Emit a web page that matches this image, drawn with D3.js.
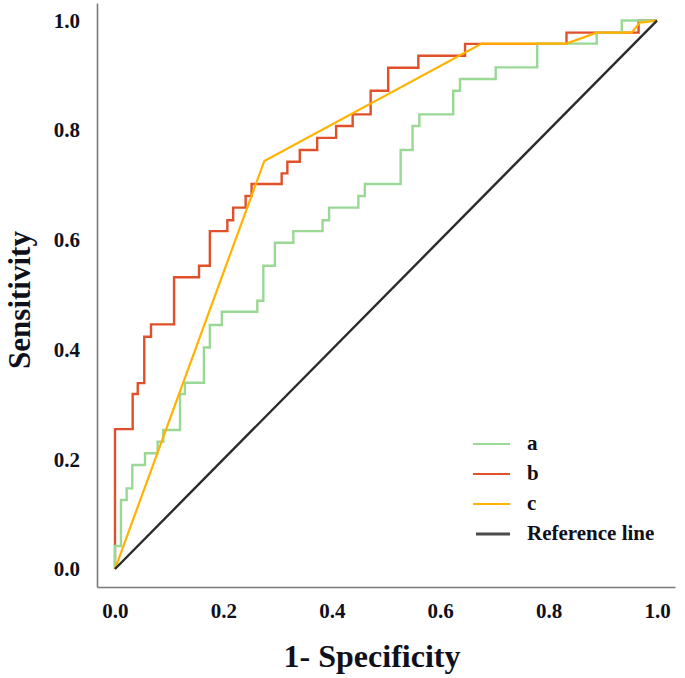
<!DOCTYPE html>
<html><head><meta charset="utf-8">
<script src="https://cdn.jsdelivr.net/npm/d3@7"></script>
<style>body{margin:0;background:#fff}</style>
</head><body>
<svg id="chart" width="685" height="678"></svg>
<script>
const seriesNames = ["a", "b", "c", "Reference line"];
const seriesColors = ["#9ad896", "#e0512b", "#ffb300", "#2b2b2b"];
const tickValues = [0, 0.2, 0.4, 0.6, 0.8, 1.0];
const tickLabels = ["0.0", "0.2", "0.4", "0.6", "0.8", "1.0"];

const rocA = [[0,0],[0,0.042],[0.011,0.042],[0.011,0.1258],[0.0215,0.1258],[0.0215,0.147],[0.032,0.147],[0.032,0.1896],[0.0554,0.1896],[0.0554,0.211],[0.0787,0.211],[0.0787,0.232],[0.089,0.232],[0.089,0.2534],[0.12,0.2534],[0.12,0.319],[0.129,0.319],[0.129,0.3397],[0.164,0.3397],[0.164,0.404],[0.175,0.404],[0.175,0.445],[0.197,0.445],[0.197,0.469],[0.2626,0.469],[0.2626,0.489],[0.2737,0.489],[0.2737,0.553],[0.295,0.553],[0.295,0.595],[0.329,0.595],[0.329,0.616],[0.383,0.616],[0.383,0.636],[0.395,0.636],[0.395,0.659],[0.449,0.659],[0.449,0.68],[0.461,0.68],[0.461,0.702],[0.527,0.702],[0.527,0.764],[0.549,0.764],[0.549,0.8077],[0.5615,0.8077],[0.5615,0.829],[0.624,0.829],[0.624,0.872],[0.6365,0.872],[0.6365,0.8934],[0.7024,0.8934],[0.7024,0.9146],[0.779,0.9146],[0.779,0.958],[0.8887,0.958],[0.8887,0.978],[0.935,0.978],[0.935,1],[1,1]];
const rocB = [[0,0],[0,0.255],[0.0326,0.255],[0.0326,0.319],[0.042,0.319],[0.042,0.339],[0.054,0.339],[0.054,0.4235],[0.0664,0.4235],[0.0664,0.446],[0.109,0.446],[0.109,0.532],[0.155,0.532],[0.155,0.553],[0.175,0.553],[0.175,0.616],[0.2073,0.616],[0.2073,0.636],[0.218,0.636],[0.218,0.659],[0.241,0.659],[0.241,0.68],[0.252,0.68],[0.252,0.702],[0.3075,0.702],[0.3075,0.7214],[0.318,0.7214],[0.318,0.7426],[0.341,0.7426],[0.341,0.764],[0.373,0.764],[0.373,0.786],[0.408,0.786],[0.408,0.8077],[0.4385,0.8077],[0.4385,0.829],[0.4717,0.829],[0.4717,0.872],[0.504,0.872],[0.504,0.914],[0.5597,0.914],[0.5597,0.9357],[0.6458,0.9357],[0.6458,0.9574],[0.833,0.9574],[0.833,0.978],[0.966,0.978],[0.966,1],[1,1]];
const rocC = [[0,0],[0.2755,0.744],[0.6765,0.958],[0.833,0.958],[0.8887,0.978],[0.953,0.978],[0.968,0.996],[1,1]];
const refLine = [[0,0],[1,1]];

const svg = d3.select("#chart");
const font = "'Liberation Serif','Times New Roman',serif";

const x = d3.scaleLinear().domain([-0.0332, 1.0332]).range([97, 675]);
const y = d3.scaleLinear().domain([-0.0328, 1.032]).range([587, 3]);

const xAxis = svg.append("g").attr("transform", "translate(0,587)")
  .call(d3.axisBottom(x).tickValues(tickValues).tickFormat((d,i)=>tickLabels[i]).tickSize(0).tickPadding(16));
const yAxis = svg.append("g").attr("transform", "translate(97,0)")
  .call(d3.axisLeft(y).tickValues(tickValues).tickFormat((d,i)=>tickLabels[i]).tickSize(0).tickPadding(17));
[xAxis, yAxis].forEach(g => {
  g.select(".domain").attr("stroke", "#7a7a7a").attr("stroke-width", 1.6);
  g.selectAll("text").attr("font-family", font).attr("font-weight", "bold")
    .attr("font-size", 21).attr("fill", "#10101c");
});

const line = d3.line().x(d => x(d[0])).y(d => y(d[1]));
const curves = [
  {data: rocB, color: seriesColors[1], w: 2.4},
  {data: rocA, color: seriesColors[0], w: 2.4},
  {data: rocC, color: seriesColors[2], w: 2.2},
  {data: refLine, color: seriesColors[3], w: 2.4}
];
svg.append("g").selectAll("path").data(curves).join("path")
  .attr("d", d => line(d.data)).attr("fill", "none")
  .attr("stroke", d => d.color).attr("stroke-width", d => d.w)
  .attr("stroke-linejoin", "miter");

// axis titles
svg.append("text").attr("x", 372).attr("y", 667).attr("text-anchor", "middle")
  .attr("font-family", font).attr("font-weight", "bold").attr("font-size", 32)
  .attr("fill", "#10101c").text("1- Specificity");
svg.append("text").attr("transform", "translate(30,300) rotate(-90)").attr("text-anchor", "middle")
  .attr("font-family", font).attr("font-weight", "bold").attr("font-size", 31)
  .attr("fill", "#10101c").text("Sensitivity");

// legend
const legendY = [444, 474, 504, 534];
const lg = svg.append("g");
seriesNames.forEach((name, i) => {
  lg.append("line").attr("x1", i === 3 ? 476 : 473).attr("x2", 510)
    .attr("y1", legendY[i]).attr("y2", legendY[i])
    .attr("stroke", i === 3 ? "#4a4a4a" : seriesColors[i])
    .attr("stroke-width", i === 3 ? 3 : 2);
  lg.append("text").attr("x", 527).attr("y", legendY[i] + 6)
    .attr("font-family", font).attr("font-weight", "bold").attr("font-size", 21)
    .attr("fill", "#10101c").text(name);
});
</script>
</body></html>
